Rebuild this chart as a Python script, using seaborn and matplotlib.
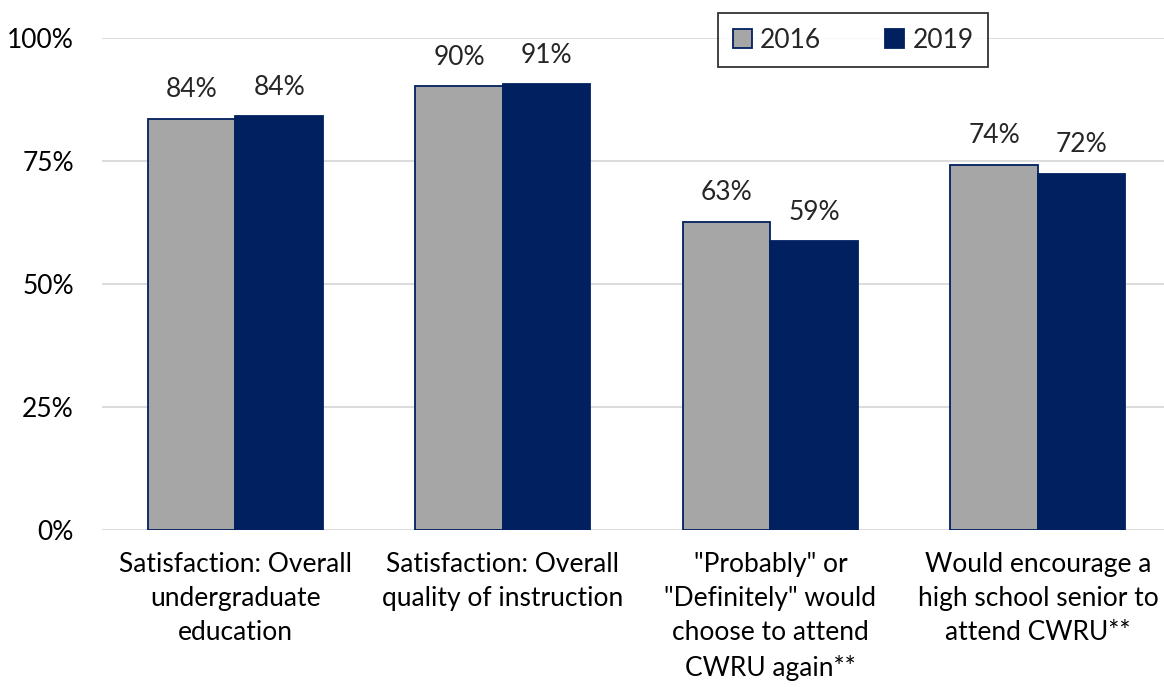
import matplotlib
matplotlib.use("Agg")
import matplotlib.pyplot as plt
import seaborn as sns
import pandas as pd
from matplotlib.ticker import FuncFormatter

categories = [
    "Satisfaction: Overall\nundergraduate\neducation",
    "Satisfaction: Overall\nquality of instruction",
    "\"Probably\" or\n\"Definitely\" would\nchoose to attend\nCWRU again**",
    "Would encourage a\nhigh school senior to\nattend CWRU**",
]
years = ["2016", "2019"]
values_2016 = [83.6, 90.2, 62.6, 74.2]
values_2019 = [84.1, 90.6, 58.7, 72.4]
yticks = [0, 25, 50, 75, 100]

df = pd.DataFrame({
    "category": categories * 2,
    "year": [years[0]] * 4 + [years[1]] * 4,
    "value": values_2016 + values_2019,
})

sns.set_theme(style="white")
plt.rcParams["font.family"] = ["Lato", "DejaVu Sans"]

navy = "#002060"
grey = "#A6A6A6"
fs = 19

fig = plt.figure(figsize=(11.64, 6.87), dpi=100)
ax = fig.add_axes([101.7 / 1164, 1 - 530 / 687, 1070 / 1164, 492 / 687])

sns.barplot(data=df, x="category", y="value", hue="year", order=categories,
            hue_order=years, palette=[grey, navy], width=0.654, ax=ax,
            edgecolor=navy, linewidth=1.3, saturation=1, zorder=3)

ax.set_xlim(-0.5, 3.5)
ax.set_ylim(0, 100)
ax.set_yticks(yticks)
ax.yaxis.set_major_formatter(FuncFormatter(lambda v, p: f"{v:.0f}%"))
ax.grid(axis="y", color="#D9D9D9", linewidth=1.3, zorder=0)
ax.grid(axis="x", visible=False)
for s in ax.spines.values():
    s.set_visible(False)
ax.set_xlabel("")
ax.set_ylabel("")
ax.tick_params(axis="both", length=0, labelsize=fs, colors="black")
ax.tick_params(axis="x", pad=16)
ax.tick_params(axis="y", pad=20)
for t in ax.get_xticklabels():
    t.set_linespacing(1.45)

for container in ax.containers:
    labels = [f"{b.get_height():.0f}%" for b in container]
    ax.bar_label(container, labels=labels, padding=12, fontsize=fs,
                 bbox=dict(facecolor="white", edgecolor="none", pad=2), zorder=5)

leg = ax.legend(loc="upper left", bbox_to_anchor=((718 - 101.7) / 1070, 1 + 25 / 492),
                ncol=2, frameon=True, fontsize=fs, handlelength=0.75, handleheight=0.75,
                handletextpad=0.3, columnspacing=2.4, borderpad=0.55,
                borderaxespad=0, fancybox=False)
leg.get_frame().set_edgecolor("black")
leg.get_frame().set_linewidth(1.3)
leg.set_title(None)

fig.savefig("out.png", dpi=100)
